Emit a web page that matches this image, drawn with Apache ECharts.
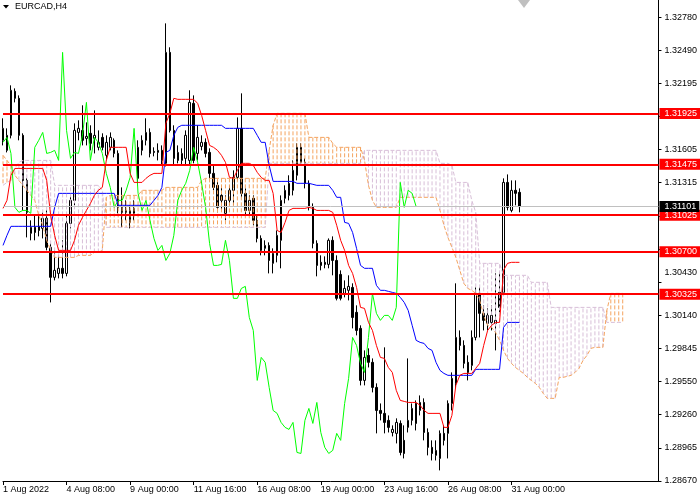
<!DOCTYPE html>
<html><head><meta charset="utf-8">
<script src="https://cdn.jsdelivr.net/npm/echarts@6/dist/echarts.min.js"></script>
<style>html,body{margin:0;padding:0;background:#fff}#c{width:700px;height:500px}</style>
</head><body><div id="c"></div>
<script>
const FONT = '"Liberation Sans", Arial, sans-serif';
const xLabels = ['1 Aug 2022','4 Aug 08:00','9 Aug 00:00','11 Aug 16:00','16 Aug 08:00','19 Aug 00:00','23 Aug 16:00','26 Aug 08:00','31 Aug 00:00'];
const yTickLabels = ['1.28670','1.28965','1.29260','1.29550','1.29845','1.30140','1.30430','1.30725','1.31020','1.31315','1.31605','1.31900','1.32195','1.32490','1.32780'];
const hiddenYTicks = ['1.30725','1.31020'];
const raisedYTicks = ['1.30430'];
const priceMin = 1.2867, priceMax = 1.32931, tickStep = 0.0029357;
const barCount = 166;
const chikouShift = 26;
const levels = [1.31925,1.31475,1.31025,1.30700,1.30325];
const lastPrice = 1.31101;

const opens = [1.31688,1.31599,1.31732,1.32122,1.32060,1.31732,1.31333,1.30864,1.30917,1.30926,
1.30908,1.30997,1.30740,1.30474,1.30509,1.30554,1.30509,1.30952,1.31156,1.31758,
1.31776,1.31705,1.31750,1.31705,1.31626,1.31714,1.31555,1.31626,1.31688,1.31572,
1.31094,1.31050,1.30961,1.31085,1.31351,1.31599,1.31688,1.31758,1.31590,1.31581,
1.31599,1.31484,1.32467,1.31776,1.31510,1.31510,1.31528,1.31510,1.32015,1.31572,
1.31634,1.31670,1.31581,1.31395,1.31289,1.31200,1.31041,1.31156,1.31245,1.31360,
1.31794,1.31218,1.31067,1.31174,1.30979,1.30819,1.30731,1.30757,1.30598,1.30669,
1.30802,1.31174,1.31200,1.31245,1.31378,1.31626,1.31493,1.31307,1.31094,1.30775,
1.30607,1.30607,1.30589,1.30802,1.30624,1.30500,1.30332,1.30359,1.30385,1.30164,
1.30022,1.29561,1.29783,1.29721,1.29499,1.29295,1.29269,1.29207,1.29100,1.29092,
1.29180,1.29030,1.29145,1.29207,1.29357,1.29295,1.29366,1.29100,1.28968,1.28897,
1.28870,1.29092,1.29092,1.29357,1.29535,1.29942,1.29871,1.29721,1.29694,1.29942,
1.30332,1.30155,1.30066,1.30075,1.30066,1.30341,1.30341,1.31315,1.31067,1.31245,
1.31227];
const closes = [1.31794,1.31732,1.32131,1.32060,1.31732,1.31333,1.31050,1.30917,1.30872,1.30890,
1.30997,1.30740,1.30474,1.30536,1.30554,1.30509,1.30952,1.31156,1.31776,1.31794,
1.31688,1.31723,1.31661,1.31732,1.31670,1.31626,1.31670,1.31714,1.31572,1.31094,
1.31050,1.31067,1.31067,1.31041,1.31626,1.31688,1.31758,1.31572,1.31581,1.31599,
1.31510,1.32467,1.31776,1.31528,1.31581,1.31572,1.31732,1.32024,1.31510,1.31714,
1.31670,1.31572,1.31395,1.31271,1.31094,1.31156,1.31156,1.31245,1.31360,1.31794,
1.31218,1.31067,1.31156,1.30979,1.30819,1.30713,1.30757,1.30624,1.30686,1.30846,
1.31156,1.31245,1.31307,1.31422,1.31626,1.31493,1.31307,1.31094,1.30775,1.30580,
1.30580,1.30589,1.30802,1.30624,1.30288,1.30288,1.30376,1.30394,1.30119,1.30004,
1.29561,1.29765,1.29721,1.29499,1.29295,1.29269,1.29189,1.29145,1.29127,1.29189,
1.28923,1.28914,1.29207,1.29313,1.29180,1.29366,1.29100,1.28968,1.28914,1.28941,
1.29092,1.29030,1.29357,1.29579,1.29942,1.29871,1.29712,1.29632,1.29942,1.30332,
1.30155,1.30093,1.30137,1.30137,1.30093,1.30208,1.31315,1.31094,1.31245,1.31218,
1.31101];
const lows = [1.31643,1.31581,1.31705,1.32024,1.31688,1.31067,1.30828,1.30802,1.30802,1.30837,
1.30819,1.30713,1.30252,1.30447,1.30465,1.30465,1.30483,1.30908,1.31112,1.31688,
1.31643,1.31643,1.31599,1.31572,1.31599,1.31599,1.31510,1.31599,1.31537,1.31041,
1.30917,1.30979,1.30908,1.30979,1.31289,1.31555,1.31643,1.31537,1.31546,1.31510,
1.31466,1.31457,1.31758,1.31466,1.31484,1.31466,1.31466,1.31466,1.31484,1.31510,
1.31599,1.31537,1.31351,1.31245,1.31050,1.31067,1.30979,1.31112,1.31112,1.31333,
1.31183,1.31023,1.31023,1.30935,1.30784,1.30669,1.30669,1.30509,1.30509,1.30607,
1.30554,1.31129,1.31156,1.31200,1.31333,1.31466,1.31262,1.31067,1.30731,1.30483,
1.30536,1.30554,1.30554,1.30492,1.30270,1.30270,1.30297,1.30270,1.30022,1.29960,
1.29517,1.29517,1.29676,1.29455,1.29092,1.29207,1.29092,1.29100,1.29065,1.29003,
1.28897,1.28870,1.29100,1.29163,1.29118,1.29251,1.29030,1.28897,1.28852,1.28852,
1.28764,1.28985,1.28870,1.29295,1.29490,1.29827,1.29668,1.29561,1.29650,1.29916,
1.29942,1.30004,1.30004,1.30004,1.29827,1.30164,1.30314,1.31067,1.31050,1.31112,
1.31050];
const highs = [1.31883,1.31794,1.32175,1.32148,1.32086,1.31750,1.31351,1.30979,1.31023,1.31023,
1.31050,1.31067,1.30775,1.30713,1.30669,1.30802,1.31023,1.31200,1.31838,1.31865,
1.31998,1.31847,1.31821,1.31953,1.31776,1.31750,1.31732,1.31758,1.31705,1.31599,
1.31271,1.31156,1.31112,1.31156,1.31688,1.31732,1.31883,1.31794,1.31626,1.31661,
1.31643,1.32724,1.32512,1.31821,1.31643,1.31617,1.31776,1.32131,1.32086,1.31821,
1.31732,1.31705,1.31617,1.31466,1.31333,1.31289,1.31200,1.31289,1.31422,1.31891,
1.32104,1.31262,1.31200,1.31200,1.31023,1.30846,1.30802,1.30784,1.30731,1.30890,
1.31200,1.31289,1.31378,1.31510,1.31661,1.31661,1.31528,1.31333,1.31129,1.30802,
1.30669,1.30660,1.30819,1.30837,1.30669,1.30536,1.30447,1.30492,1.30421,1.30226,
1.30049,1.29827,1.29845,1.29756,1.29535,1.29357,1.29854,1.29251,1.29163,1.29225,
1.29207,1.29163,1.29756,1.29357,1.29384,1.29428,1.29402,1.29136,1.29030,1.29030,
1.29118,1.29163,1.29384,1.29632,1.30421,1.30004,1.29916,1.29783,1.30004,1.30385,
1.30385,1.30226,1.30199,1.30226,1.30509,1.30518,1.31351,1.31386,1.31333,1.31333,
1.31262];
const tenkan = [1.31085,1.31156,1.31378,1.31439,1.31439,1.31439,1.31439,1.31439,1.31439,1.31439,
1.31439,1.31333,1.31023,1.30846,1.30713,1.30713,1.30713,1.30713,1.30802,1.30935,
1.31005,1.31067,1.31129,1.31200,1.31245,1.31271,1.31510,1.31626,1.31626,1.31626,
1.31626,1.31626,1.31395,1.31315,1.31315,1.31315,1.31351,1.31378,1.31395,1.31395,
1.31395,1.31838,1.31927,1.32060,1.32051,1.32051,1.32051,1.32051,1.32051,1.32015,
1.31909,1.31776,1.31643,1.31626,1.31599,1.31555,1.31493,1.31360,1.31351,1.31422,
1.31484,1.31484,1.31484,1.31466,1.31404,1.31360,1.31333,1.31333,1.31218,1.30890,
1.30872,1.30961,1.31067,1.31085,1.31085,1.31085,1.31085,1.31094,1.31085,1.31067,
1.31067,1.31067,1.31067,1.31050,1.30935,1.30802,1.30713,1.30580,1.30509,1.30385,
1.30208,1.30199,1.30075,1.30004,1.29871,1.29765,1.29756,1.29676,1.29632,1.29473,
1.29384,1.29375,1.29366,1.29366,1.29366,1.29340,1.29295,1.29269,1.29269,1.29269,
1.29269,1.29145,1.29145,1.29251,1.29517,1.29606,1.29623,1.29623,1.29623,1.29668,
1.29712,1.29871,1.30004,1.30049,1.30075,1.30075,1.30536,1.30598,1.30607,1.30607,
1.30607];
const kijun = [1.30757,1.30846,1.30926,1.30926,1.30926,1.30926,1.30926,1.30926,1.30926,1.30926,
1.30926,1.30926,1.30926,1.31094,1.31218,1.31218,1.31218,1.31218,1.31218,1.31218,
1.31218,1.31218,1.31218,1.31218,1.31218,1.31218,1.31218,1.31218,1.31218,1.31112,
1.31112,1.31112,1.31112,1.31112,1.31112,1.31112,1.31112,1.31112,1.31156,1.31200,
1.31271,1.31581,1.31599,1.31732,1.31803,1.31821,1.31821,1.31821,1.31821,1.31821,
1.31821,1.31821,1.31821,1.31821,1.31821,1.31821,1.31794,1.31794,1.31794,1.31794,
1.31794,1.31794,1.31794,1.31794,1.31732,1.31670,1.31670,1.31466,1.31324,1.31324,
1.31324,1.31324,1.31324,1.31324,1.31307,1.31307,1.31307,1.31307,1.31298,1.31289,
1.31289,1.31289,1.31289,1.31245,1.31183,1.31183,1.30961,1.30952,1.30872,1.30731,
1.30580,1.30554,1.30554,1.30554,1.30403,1.30359,1.30359,1.30350,1.30341,1.30332,
1.30297,1.30252,1.30181,1.30049,1.29916,1.29898,1.29889,1.29845,1.29827,1.29721,
1.29650,1.29623,1.29606,1.29606,1.29606,1.29606,1.29606,1.29606,1.29606,1.29659,
1.29659,1.29659,1.29659,1.29659,1.29659,1.29659,1.30031,1.30075,1.30075,1.30075,
1.30075];
const spanA = [1.31555,1.31510,1.31466,1.31378,1.31333,1.31289,1.31245,1.31200,1.31156,1.31023,
1.30935,1.30802,1.30713,1.30651,1.30651,1.30651,1.30651,1.30651,1.30651,1.30669,
1.30669,1.30669,1.30669,1.30695,1.30695,1.30713,1.31183,1.31200,1.31200,1.31200,
1.31200,1.31200,1.31200,1.31200,1.31200,1.31245,1.31245,1.31245,1.31245,1.31245,
1.31245,1.31271,1.31271,1.31271,1.31271,1.31271,1.31271,1.31271,1.31271,1.31271,
1.31333,1.31351,1.31351,1.31351,1.31351,1.31351,1.31351,1.31351,1.31351,1.31351,
1.31351,1.31351,1.31351,1.31351,1.31351,1.31351,1.31351,1.31599,1.31821,1.31927,
1.31927,1.31927,1.31927,1.31927,1.31927,1.31927,1.31927,1.31714,1.31714,1.31714,
1.31714,1.31714,1.31714,1.31661,1.31626,1.31626,1.31626,1.31626,1.31626,1.31626,
1.31626,1.31510,1.31289,1.31156,1.31094,1.31094,1.31094,1.31094,1.31094,1.31094,
1.31183,1.31183,1.31183,1.31183,1.31183,1.31183,1.31183,1.31183,1.31183,1.31183,
1.31067,1.30935,1.30828,1.30740,1.30651,1.30536,1.30421,1.30376,1.30359,1.30332,
1.30270,1.30137,1.30049,1.30031,1.29986,1.29916,1.29827,1.29756,1.29712,1.29676,
1.29650,1.29623,1.29588,1.29561,1.29535,1.29499,1.29446,1.29402,1.29402,1.29402,
1.29588,1.29588,1.29597,1.29606,1.29632,1.29668,1.29738,1.29783,1.29845,1.29854,
1.29854,1.29854,1.30181,1.30332,1.30332,1.30332,1.30332];
const spanB = [1.31289,1.31315,1.31333,1.31439,1.31493,1.31510,1.31510,1.31510,1.31510,1.31510,
1.31510,1.31510,1.31510,1.31289,1.31289,1.31289,1.31289,1.31289,1.31289,1.31289,
1.31289,1.31289,1.31289,1.31289,1.31289,1.31245,1.30917,1.30917,1.30917,1.30917,
1.30917,1.30917,1.30917,1.30917,1.30917,1.30917,1.30917,1.30917,1.30917,1.30917,
1.30917,1.30917,1.30917,1.30917,1.30917,1.30917,1.30917,1.30917,1.30917,1.30917,
1.30917,1.30917,1.30917,1.30917,1.30917,1.30917,1.30917,1.30917,1.30917,1.30917,
1.30917,1.30917,1.30917,1.30917,1.30917,1.30917,1.30917,1.31484,1.31484,1.31484,
1.31484,1.31484,1.31484,1.31484,1.31484,1.31484,1.31484,1.31484,1.31484,1.31484,
1.31484,1.31484,1.31484,1.31484,1.31484,1.31484,1.31484,1.31484,1.31484,1.31484,
1.31484,1.31599,1.31599,1.31599,1.31599,1.31599,1.31599,1.31599,1.31599,1.31599,
1.31599,1.31599,1.31599,1.31599,1.31599,1.31599,1.31599,1.31599,1.31599,1.31599,
1.31484,1.31484,1.31484,1.31466,1.31315,1.31315,1.31315,1.31315,1.31156,1.31050,
1.30598,1.30598,1.30598,1.30598,1.30598,1.30598,1.30492,1.30492,1.30492,1.30492,
1.30492,1.30492,1.30492,1.30430,1.30430,1.30430,1.30430,1.30430,1.30208,1.30208,
1.30208,1.30208,1.30208,1.30208,1.30208,1.30208,1.30208,1.30208,1.30208,1.30208,
1.30208,1.30208,1.30075,1.30075,1.30075,1.30075,1.30075];

const cats = Array.from({length: barCount}, (_, i) => String(i));
const candleData = opens.map((o, i) => [o, closes[i], lows[i], highs[i]]);
const chikou = cats.map((_, i) => (i + chikouShift < closes.length ? closes[i + chikouShift] : null));
const cloudData = spanA.map((a, i) => [i, a, spanB[i]]);
const labelMax = (priceMax - priceMin) / tickStep;
const isLabelBar = (idx) => idx % 16 === 0 && idx / 16 < xLabels.length;

const SANDY = '#F4A460', THISTLE = '#D8BFD8';
const tagLabel = (bg) => ({show: true, position: 'end', distance: 1, formatter: p => Number(p.value).toFixed(5),
  backgroundColor: bg, color: '#fff', fontSize: 9, lineHeight: 9, fontFamily: FONT, padding: [1, 3, 1, 5]});

const chart = echarts.init(document.getElementById('c'), null, {renderer: 'canvas'});
chart.setOption({
  animation: false,
  backgroundColor: '#ffffff',
  grid: {left: 0.5, right: 39.5, top: 0, bottom: 19, containLabel: false},
  xAxis: {
    type: 'category', data: cats, boundaryGap: false,
    axisLine: {lineStyle: {color: '#000', width: 1}},
    axisTick: {show: true, interval: isLabelBar, length: 4, lineStyle: {color: '#000'}},
    axisLabel: {interval: isLabelBar, align: 'left', margin: 4, fontSize: 9, fontFamily: FONT, color: '#000',
      formatter: (v, idx) => xLabels[Math.round(idx / 16)] || ''},
    splitLine: {show: false}
  },
  yAxis: [
    {type: 'value', min: priceMin, max: priceMax, position: 'right', scale: true,
      axisLine: {show: true, lineStyle: {color: '#000'}}, axisTick: {show: false},
      axisLabel: {show: false}, splitLine: {show: false}},
    {type: 'value', min: 0, max: labelMax, interval: 1, position: 'right',
      axisLine: {show: true, lineStyle: {color: '#000'}},
      axisTick: {show: true, length: 3, lineStyle: {color: '#000'}},
      axisLabel: {margin: 6, fontSize: 9, fontFamily: FONT, color: '#000', showMaxLabel: false,
        formatter: (v) => {
          if (Math.abs(v - Math.round(v)) > 1e-6) return '';
          const t = yTickLabels[Math.round(v)];
          if (!t || hiddenYTicks.includes(t)) return '';
          return raisedYTicks.includes(t) ? '{up|' + t + '}' : t;
        },
        rich: {up: {fontSize: 9, fontFamily: FONT, color: '#000', padding: [0, 0, 19, 0]}}},
      splitLine: {show: false}}
  ],
  graphic: [
    {type: 'polygon', shape: {points: [[3, 5], [9, 5], [6, 8.5]]}, style: {fill: '#000'}, z: 100},
    {type: 'text', left: 15, top: 2, style: {text: 'EURCAD,H4', font: '9px ' + FONT, fill: '#000'}, z: 100},
    {type: 'polygon', shape: {points: [[518, 0], [530, 0], [524, 8]]}, style: {fill: '#C0C0C0'}, z: 100}
  ],
  series: [
    {type: 'candlestick', data: candleData, barWidth: 2, z: 2,
      itemStyle: {color: '#ffffff', color0: '#000000', borderColor: '#000000', borderColor0: '#000000', borderWidth: 1}},
    {type: 'custom', data: cloudData, z: 3, silent: true,
      encode: {x: 0, y: [1, 2]},
      renderItem: (params, api) => {
        const i = api.value(0), a = api.value(1), b = api.value(2);
        const p1 = api.coord([i, a]), p2 = api.coord([i, b]);
        return {type: 'line', shape: {x1: p1[0], y1: p1[1], x2: p2[0], y2: p2[1]},
          style: {stroke: a >= b ? SANDY : THISTLE, lineWidth: 1, lineDash: [4, 2]}};
      }},
    {type: 'line', data: spanA, symbol: 'none', z: 3, lineStyle: {color: SANDY, width: 1, type: [4, 2]}},
    {type: 'line', data: spanB, symbol: 'none', z: 3, lineStyle: {color: THISTLE, width: 1, type: [4, 2]}},
    {type: 'line', data: chikou, symbol: 'none', z: 4, lineStyle: {color: '#00FF00', width: 1}},
    {type: 'line', data: kijun, symbol: 'none', z: 4, lineStyle: {color: '#0000FF', width: 1}},
    {type: 'line', data: tenkan, symbol: 'none', z: 4, lineStyle: {color: '#FF0000', width: 1}},
    {type: 'line', data: [], z: 10, silent: true,
      markLine: {symbol: ['none', 'none'], silent: true, animation: false, precision: 5,
        data: levels.map(v => ({yAxis: v, lineStyle: {color: '#FF0000', width: 2, type: 'solid'}, label: tagLabel('#FF0000')}))
          .concat([{yAxis: lastPrice, lineStyle: {color: '#C0C0C0', width: 1, type: 'solid'}, label: tagLabel('#000000')}])}}
  ]
});
</script></body></html>
